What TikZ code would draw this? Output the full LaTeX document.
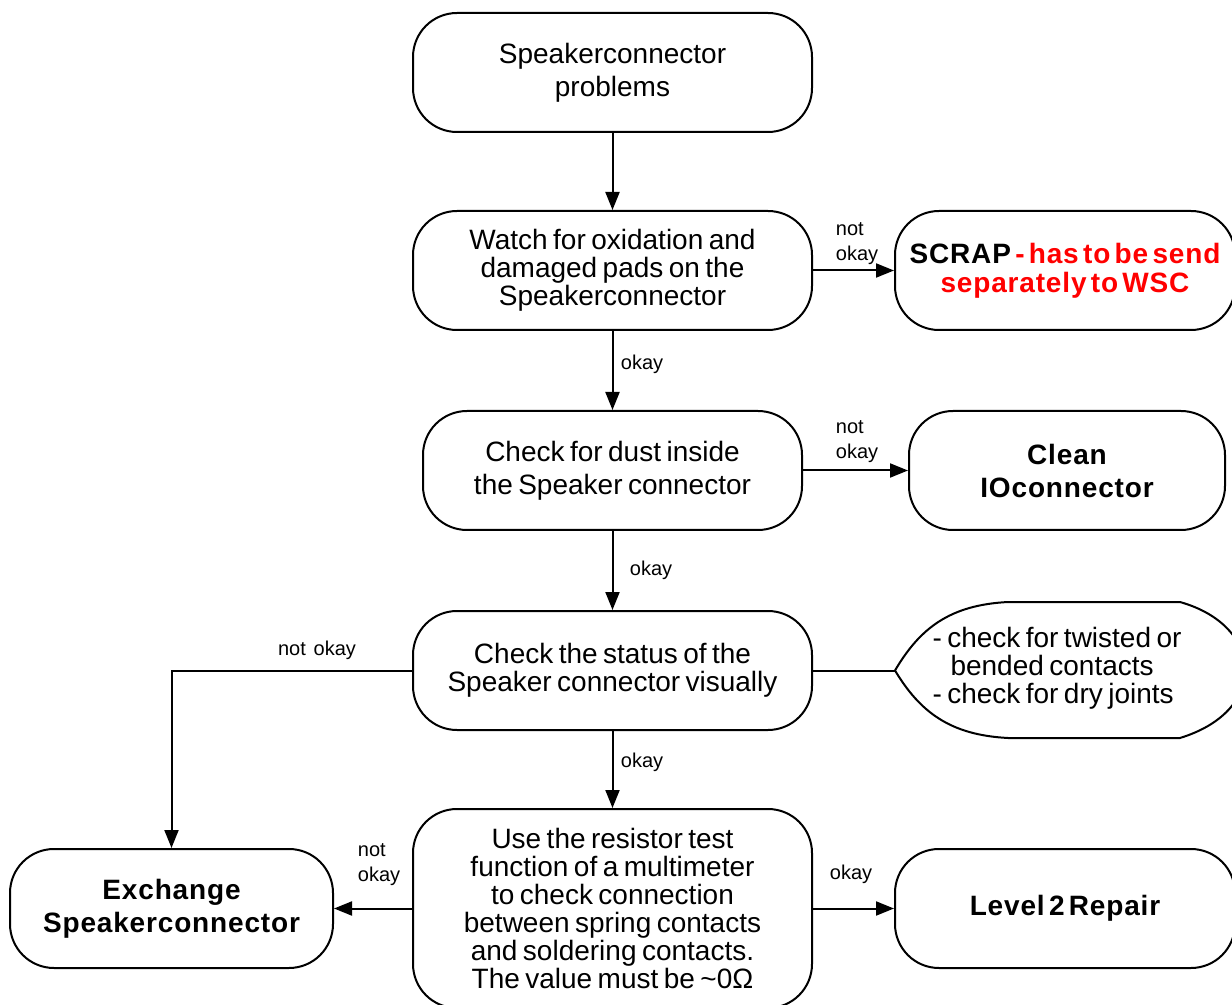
\documentclass[tikz,border=0pt]{standalone}
\usepackage{fontspec}
\setmainfont{Liberation Sans}[WordSpace=0.7]
\newfontfamily\widebold{Liberation Sans}[LetterSpace=3,WordSpace=0.5]
\usetikzlibrary{arrows.meta}

\tikzset{
  stepbox/.style={draw, line width=1pt, rounded corners=22pt, align=center, inner sep=0pt,
    minimum width=199.5pt, minimum height=59.5pt, font=\fontsize{14}{16.5}\selectfont},
  tightbox/.style={stepbox, font=\fontsize{14}{14}\selectfont},
  endbox/.style={stepbox, font=\widebold\bfseries\fontsize{14}{16.5}\selectfont},
  answer/.style={font=\fontsize{10}{12.5}\selectfont, align=left, inner sep=0pt},
  flow/.style={line width=1pt, -{Triangle[length=9pt,width=7pt]}},
  link/.style={line width=1pt}
}

\begin{document}
\begin{tikzpicture}[x=0.5pt, y=-0.5pt]
    \useasboundingbox (0,0) rectangle (1232,1005);

    % main column
    \node[stepbox] (start) at (612.5,72.5) {Speakerconnector\\problems};
    \node[tightbox] (oxid) at (612.5,270.5) {Watch for oxidation and\\damaged pads on the\\Speakerconnector};
    \node[stepbox, minimum width=189.5pt] (dust) at (612.5,470.5) {Check for dust inside\\the Speaker connector};
    \node[tightbox] (status) at (612.5,670.5) {Check the status of the\\Speaker connector visually};
    \node[tightbox, minimum height=99.5pt] (ohm) at (612.5,908.5) {Use the resistor test\\function of a multimeter\\to check connection\\between spring contacts\\and soldering contacts.\\The value must be \textasciitilde0Ω};

    % results
    \node[endbox, minimum width=170pt, font=\widebold\bfseries\fontsize{14}{14.5}\selectfont] (scrap) at (1065,270.5) {SCRAP \textcolor{red}{- has to be send}\\\textcolor{red}{separately to WSC}};
    \node[endbox, minimum width=158pt] (clean) at (1067,470.5) {Clean\\IOconnector};
    \node[endbox, minimum width=161.5pt] (exchange) at (171.5,908.5) {Exchange\\Speakerconnector};
    \node[endbox, minimum width=170pt] (level) at (1065,908.5) {Level 2 Repair};

    % comment
    \coordinate (tip) at (895,670.5);
    \draw[link] (tip) .. controls (920,628) and (950,605) .. (1008,602) -- (1180,602)
        .. controls (1222,614) and (1244,640) .. (1246,670) .. controls (1244,700) and (1222,725) .. (1180,738)
        -- (1008,738) .. controls (950,735) and (920,712) .. (tip);
    \node[answer, font=\fontsize{14}{14}\selectfont] (hints) at (1057,668) {- check for twisted or\\\hspace{9pt}bended contacts\\- check for dry joints};

    % connectors
    \draw[flow] (start) -- (oxid);
    \draw[flow] (oxid) -- (scrap);
    \draw[flow] (oxid) -- (dust);
    \draw[flow] (dust) -- (clean);
    \draw[flow] (dust) -- (status);
    \draw[link] (status.east) -- (tip);
    \draw[flow] (status.west) -| (exchange.north);
    \draw[flow] (status) -- (ohm);
    \draw[flow] (ohm) -- (exchange);
    \draw[flow] (ohm) -- (level);

    % answers
    \node[answer] (n1) at (857,244) {not\\okay};
    \node[answer] (y1) at (642,364) {okay};
    \node[answer] (n2) at (857,442) {not\\okay};
    \node[answer] (y2) at (651,570) {okay};
    \node[answer] (n3) at (317,650) {not\ \ okay};
    \node[answer] (y3) at (642,762) {okay};
    \node[answer] (n4) at (379,865) {not\\okay};
    \node[answer] (y4) at (851,874) {okay};
\end{tikzpicture}
\end{document}
